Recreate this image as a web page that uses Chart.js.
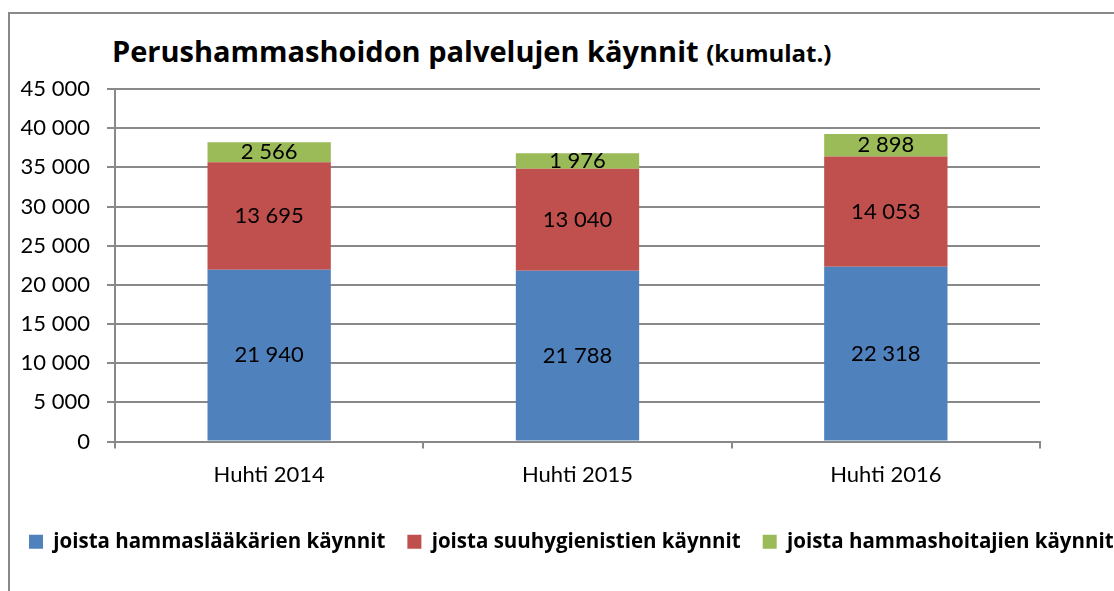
<!DOCTYPE html>
<html>
<head>
<meta charset="utf-8">
<script src="https://cdn.jsdelivr.net/npm/chart.js@4.4.1/dist/chart.umd.min.js"></script>
<style>
  html, body { margin: 0; padding: 0; width: 1114px; height: 591px; overflow: hidden; background: #fff; }
  #kehys { position: absolute; left: 8px; top: 12px; width: 1300px; height: 800px; border: 2px solid #898989; box-sizing: border-box; }
  #otsikko { position: absolute; left: 112px; top: 31px; font-family: "Open Sans", sans-serif; font-weight: bold; font-size: 29px; line-height: 1.362; color: #000; white-space: nowrap; }
  #otsikko span { font-size: 24px; }
  #alue { position: absolute; left: 0; top: 0; width: 1250px; height: 591px; }
</style>
</head>
<body>
<div id="kehys"></div>
<div id="otsikko">Perushammashoidon palvelujen käynnit <span>(kumulat.)</span></div>
<div id="alue"><canvas id="graafi"></canvas></div>
<script>
const kategoriat = ["Huhti 2014", "Huhti 2015", "Huhti 2016"];
const sarjaNimet = ["joista hammaslääkärien käynnit", "joista suuhygienistien käynnit", "joista hammashoitajien käynnit"];
const hammaslaakarit = [21940, 21788, 22318];
const suuhygienistit = [13695, 13040, 14053];
const hammashoitajat = [2566, 1976, 2898];
const yMax = 45000;
const yAskel = 5000;

const fontti = "Lato, sans-serif";

function muotoile(arvo) {
    return String(arvo).replace(/\B(?=(\d{3})+(?!\d))/g, " ");
}

// arvot palkkien keskelle
const arvoLaput = {
    id: "arvoLaput",
    afterDatasetsDraw(chart) {
        const ctx = chart.ctx;
        ctx.save();
        ctx.font = "22px " + fontti;
        ctx.fillStyle = "#000";
        ctx.textAlign = "center";
        ctx.textBaseline = "middle";
        chart.data.datasets.forEach((ds, i) => {
            const meta = chart.getDatasetMeta(i);
            meta.data.forEach((palkki, j) => {
                const y = (palkki.y + palkki.base) / 2;
                ctx.fillText(muotoile(ds.data[j]), palkki.x, y);
            });
        });
        ctx.restore();
    }
};

const harmaa = "#898989";

new Chart(document.getElementById("graafi"), {
    type: "bar",
    data: {
        labels: kategoriat,
        datasets: [
            { label: sarjaNimet[0], data: hammaslaakarit, backgroundColor: "#4f81bd" },
            { label: sarjaNimet[1], data: suuhygienistit, backgroundColor: "#c0504d" },
            { label: sarjaNimet[2], data: hammashoitajat, backgroundColor: "#9bbb59" }
        ]
    },
    options: {
        responsive: true,
        maintainAspectRatio: false,
        animation: false,
        barPercentage: 0.4,
        categoryPercentage: 1,
        layout: {
            padding: { top: 89, left: 7, right: 0, bottom: 29 }
        },
        plugins: {
            title: { display: false },
            tooltip: { enabled: false },
            legend: {
                position: "bottom",
                align: "start",
                labels: {
                    boxWidth: 14,
                    boxHeight: 14,
                    padding: 22,
                    color: "#000",
                    font: { family: "'Open Sans', sans-serif", size: 20.5, weight: "bold" }
                }
            }
        },
        scales: {
            x: {
                stacked: true,
                grid: { drawOnChartArea: false, drawTicks: true, tickLength: 7, color: harmaa, lineWidth: 2 },
                border: { display: true, color: harmaa, width: 2 },
                ticks: { color: "#000", padding: 13, font: { family: fontti, size: 22 } },
                afterFit(scale) { scale.height = 68; }
            },
            y: {
                stacked: true,
                min: 0,
                max: yMax,
                ticks: {
                    stepSize: yAskel,
                    color: "#000",
                    padding: 17,
                    font: { family: fontti, size: 22 },
                    callback: (v) => muotoile(v)
                },
                grid: { color: harmaa, lineWidth: 2, tickLength: 8 },
                border: { display: true, color: harmaa, width: 2 },
                afterFit(scale) { scale.width = 108; }
            },
            oikea: {
                position: "right",
                display: true,
                grid: { display: false },
                border: { display: false },
                ticks: { display: false },
                afterFit(scale) { scale.width = 1250 - 1040; }
            }
        }
    },
    plugins: [arvoLaput]
});
</script>
</body>
</html>
